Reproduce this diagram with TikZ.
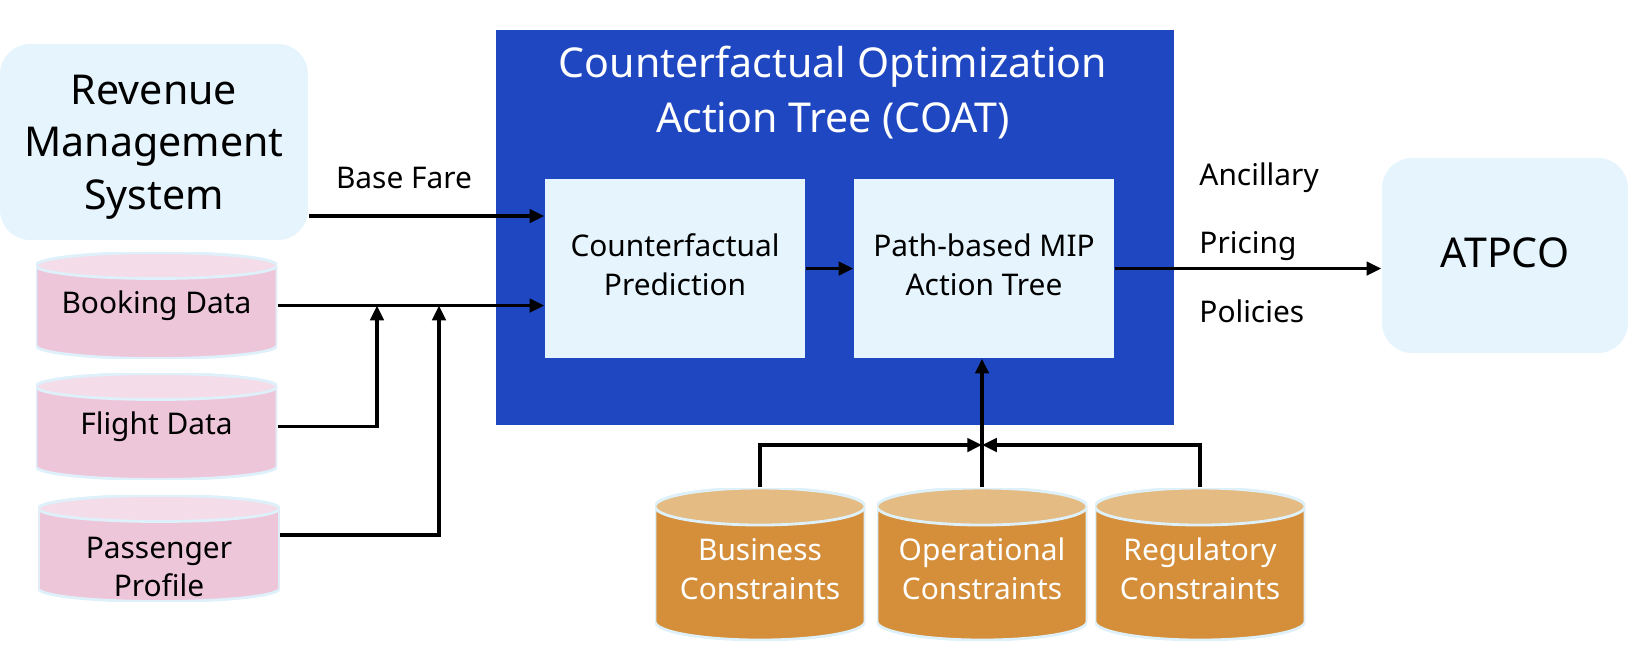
\documentclass[tikz,border=0pt]{standalone}
\usepackage{fontspec}
\setmainfont{Noto Sans}
\usetikzlibrary{calc,arrows.meta}
\definecolor{coatblue}{RGB}{31,71,193}
\definecolor{paleblue}{RGB}{230,245,253}
\definecolor{pinkbody}{RGB}{238,198,218}
\definecolor{pinktop}{RGB}{244,220,232}
\definecolor{orangebody}{RGB}{213,143,58}
\definecolor{orangetop}{RGB}{228,188,131}
\definecolor{dbline}{RGB}{222,240,250}
\tikzset{
	bigtxt/.style={font=\fontsize{11.7}{14.9}\selectfont},
	smalltxt/.style={font=\fontsize{8.5}{11}\selectfont},
	roundbox/.style={rectangle, rounded corners=0.3cm, fill=paleblue, align=center, bigtxt},
	flatbox/.style={rectangle, fill=paleblue, minimum width=2.6cm, minimum height=1.79cm, align=center, smalltxt, text depth=2.2pt},
	dbtop/.store in=\dbtopcol,
	dbbody/.store in=\dbbodycol,
	dbry/.store in=\dbry,
	database/.style={rectangle, align=center, smalltxt, inner sep=0pt,
		path picture={
			\draw[dbline, line width=0.8pt, fill=\dbbodycol]
				let \p1=(path picture bounding box.north west), \p2=(path picture bounding box.south east) in
				(\x1,\y1-\dbry) -- (\x1,\y2+\dbry)
				arc[start angle=180, end angle=360, x radius={(\x2-\x1)/2}, y radius=\dbry]
				-- (\x2,\y1-\dbry)
				arc[start angle=0, end angle=180, x radius={(\x2-\x1)/2}, y radius=\dbry] -- cycle;
			\draw[dbline, line width=0.8pt, fill=\dbtopcol]
				let \p1=(path picture bounding box.north west), \p2=(path picture bounding box.south east) in
				({(\x1+\x2)/2},\y1-\dbry) ellipse[x radius={(\x2-\x1)/2}, y radius=\dbry];
		}},
	pinkdb/.style={database, dbbody=pinkbody, dbtop=pinktop, dbry=0.13cm, minimum width=2.41cm, minimum height=1.06cm},
	orangedb/.style={database, dbbody=orangebody, dbtop=orangetop, dbry=0.185cm, text=white, minimum width=2.1cm, minimum height=1.52cm, text height=20pt},
	flow/.style={->, line width=1pt}
}
\begin{document}
\begin{tikzpicture}[>={Triangle[length=4.2pt,width=3.8pt]}]
	\useasboundingbox (0,0) rectangle (16.34,-6.57);
	\node[roundbox, minimum width=3.08cm, minimum height=1.96cm, text depth=0pt] (rms) at (1.54,-1.42) {Revenue\\Management\\System};
	\node[roundbox, minimum width=2.46cm, minimum height=1.95cm, text depth=1.7pt] (atpco) at (15.05,-2.555) {ATPCO};
	\node[fill=coatblue, minimum width=6.78cm, minimum height=3.95cm] (coat) at (8.35,-2.275) {};
	\node[font=\fontsize{11.7}{15.4}\selectfont, text=white, align=center, anchor=north] (title) at (8.33,-0.34) {Counterfactual Optimization\\Action Tree (COAT)};
	\node[flatbox] (cfp) at (6.75,-2.685) {Counterfactual\\Prediction};
	\node[flatbox] (mip) at (9.84,-2.685) {Path-based MIP\\Action Tree};
	\node[pinkdb] (book) at (1.565,-3.055) {Booking Data};
	\node[pinkdb] (flight) at (1.565,-4.265) {Flight Data};
	\node[pinkdb, text height=27.5pt] (pass) at (1.59,-5.485) {Passenger\\Profile};
	\node[orangedb] (bus) at (7.60,-5.64) {Business\\Constraints};
	\node[orangedb] (ops) at (9.82,-5.64) {Operational\\Constraints};
	\node[orangedb] (reg) at (12.00,-5.64) {Regulatory\\Constraints};
	\node[smalltxt] (fare) at (4.04,-1.78) {Base Fare};
	\node[smalltxt, anchor=west] (anc) at (11.87,-1.78) {Ancillary};
	\node[smalltxt, anchor=west] (pric) at (11.87,-2.46) {Pricing};
	\node[smalltxt, anchor=west] (pol) at (11.87,-3.115) {Policies};
	\coordinate (j1) at (3.77,-3.055);
	\coordinate (j2) at (4.39,-3.055);
	\coordinate (merge) at (9.82,-4.45);
	\draw[flow] (rms.east |- 0,-2.16) -- (cfp.west |- 0,-2.16);
	\draw[flow] (book.east) -- (book.east -| cfp.west);
	\draw[flow] (flight.east) -| (j1);
	\draw[flow] ([yshift=1.35mm]pass.east) -| (j2);
	\draw[flow] (cfp) -- (mip);
	\draw[flow] (mip.east) -- (mip.east -| atpco.west);
	\draw[flow] (ops.north) -- (ops.north |- mip.south);
	\draw[flow] (bus.north) |- (merge);
	\draw[flow] (reg.north) |- (merge);
\end{tikzpicture}
\end{document}
